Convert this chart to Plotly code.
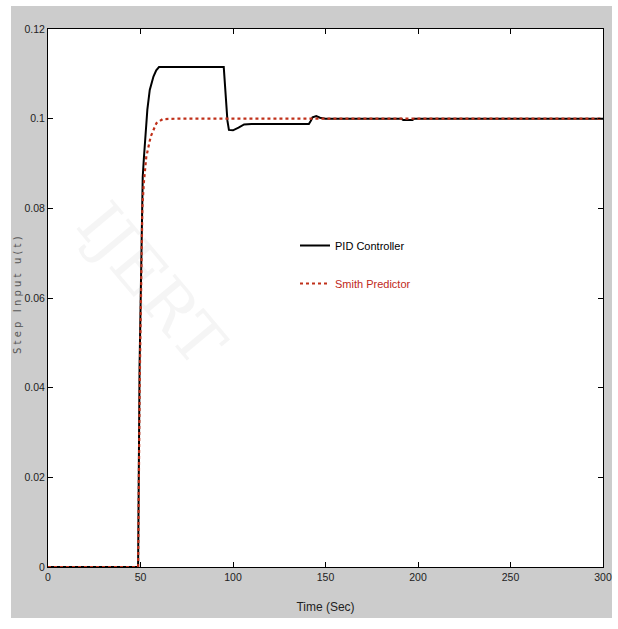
import plotly.graph_objects as go

# ---- data ----
pid_t = [0, 48.7, 49.5, 50.5, 51.2, 51.8, 52.7, 53.7, 55, 57, 58.5, 60, 95, 96, 97, 97.8, 100, 103, 106, 110,
         141, 142, 143, 145, 147, 150, 191, 192, 197, 198, 300]
pid_u = [0, 0, 0.045, 0.075, 0.087, 0.091, 0.097, 0.102, 0.1064, 0.1094, 0.1108, 0.1115, 0.1115, 0.106, 0.0995,
         0.0975, 0.0974, 0.098, 0.0987, 0.0988, 0.0988, 0.0995, 0.1003, 0.1006, 0.1002, 0.1, 0.1, 0.0997,
         0.0997, 0.1, 0.1]

smith_t = [0, 48.7, 49.6, 51, 51.8, 53.1, 55.5, 58.6, 62, 70, 300]
smith_u = [0, 0, 0.042, 0.08, 0.0857, 0.0914, 0.096, 0.099, 0.0999, 0.1, 0.1]

x_ticks = [0, 50, 100, 150, 200, 250, 300]
y_ticks = [0, 0.02, 0.04, 0.06, 0.08, 0.1, 0.12]
y_tick_text = ["0", "0.02", "0.04", "0.06", "0.08", "0.1", "0.12"]

W, H = 618, 629
L, R, T, B = 48, 15, 29, 62
pw, ph = W - L - R, H - T - B

def px(xp):
    return (xp - L) / pw

def py(yp):
    return (H - B - yp) / ph

narrow = "Liberation Sans Narrow, Arial Narrow, Liberation Sans, sans-serif"

fig = go.Figure()
fig.add_trace(go.Scatter(x=pid_t, y=pid_u, mode="lines", name="PID Controller",
                         line=dict(color="black", width=2), legendgroup="a"))
fig.add_trace(go.Scatter(x=smith_t, y=smith_u, mode="lines",
                         name="<span style='color:#c0281a'>Smith Predictor</span>",
                         line=dict(color="#c0301a", width=2.2, dash="dot"), legendgroup="b"))

axis_common = dict(showgrid=False, zeroline=False, showline=True, linecolor="black", linewidth=1,
                   mirror="ticks", ticks="inside", ticklen=5, tickcolor="black", automargin=False,
                   tickfont=dict(family=narrow, size=10.5, color="#222"))

fig.update_layout(
    width=W, height=H,
    margin=dict(l=L, r=R, t=T, b=B),
    paper_bgcolor="white", plot_bgcolor="white",
    showlegend=True,
    legend=dict(x=px(295), y=py(231), xanchor="left", yanchor="top",
                bgcolor="rgba(0,0,0,0)", tracegroupgap=19, traceorder="grouped",
                font=dict(family=narrow, size=11, color="black")),
    xaxis=dict(range=[0, 300], tickvals=x_ticks, title=dict(text="Time (Sec)", standoff=21,
               font=dict(family=narrow, size=12, color="#222")), **axis_common),
    yaxis=dict(range=[0, 0.12], tickvals=y_ticks, ticktext=y_tick_text, **axis_common),
    shapes=[
        dict(type="rect", xref="paper", yref="paper", x0=px(11), x1=px(612), y0=py(618), y1=py(6),
             fillcolor="#cccccc", line=dict(width=0), layer="below"),
        dict(type="rect", xref="paper", yref="paper", x0=0, x1=1, y0=0, y1=1,
             fillcolor="white", line=dict(width=0), layer="below"),
    ],
    annotations=[
        dict(text="IJERT", xref="paper", yref="paper", x=px(60), y=py(185), showarrow=False,
             textangle=50, font=dict(family="DejaVu Serif, serif", size=64, color="rgba(160,160,160,0.10)")),
        dict(text="S t e p   I n p u t   u ( t )", xref="paper", yref="paper", x=px(17), y=py(295),
             showarrow=False, textangle=-90, xanchor="center", yanchor="middle",
             font=dict(family="DejaVu Sans, sans-serif", size=10, color="#555")),
    ],
)

fig.write_html("out.html")
